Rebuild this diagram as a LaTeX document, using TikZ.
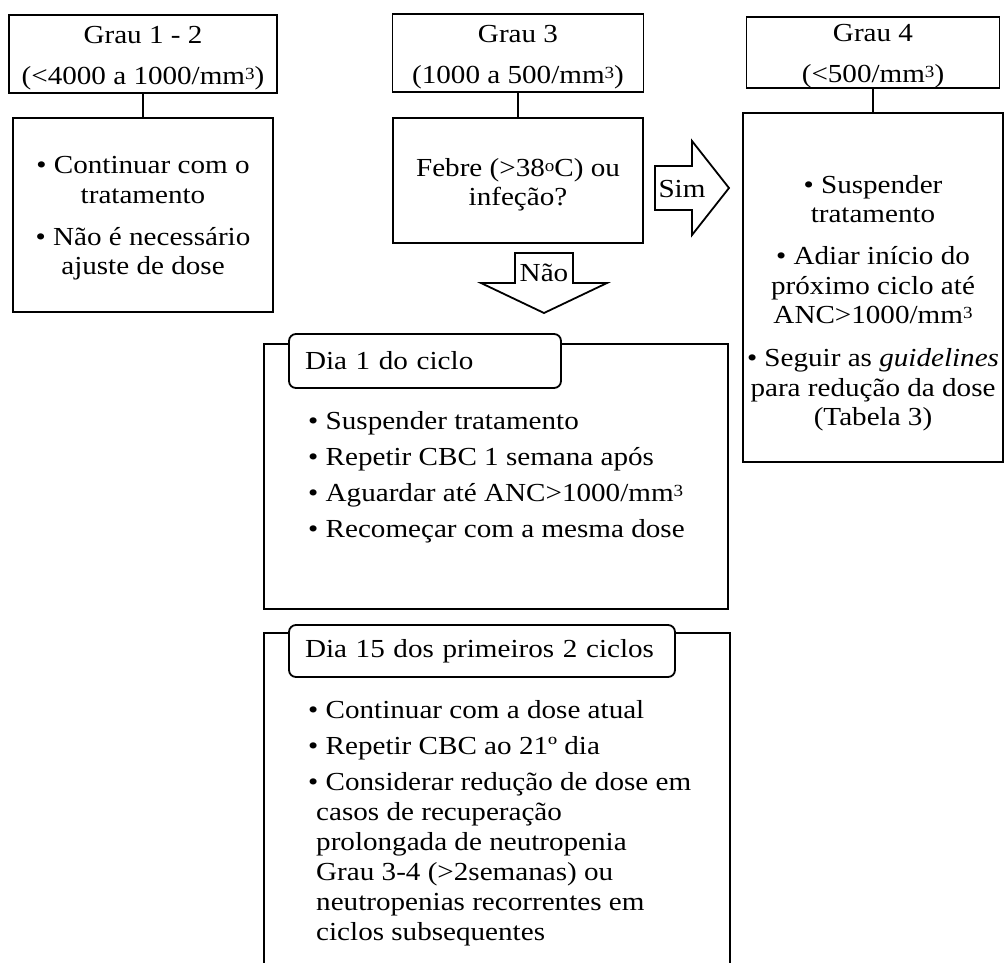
\documentclass[tikz,border=0pt]{standalone}
\usepackage{fontspec}
\setmainfont{Liberation Serif}[FakeStretch=1.12]
\usepackage{tikz}
\usetikzlibrary{positioning}
\tikzset{grade node/.style={draw, line width=1.8pt, inner sep=0pt, align=center,
    font=\fontsize{26}{41}\selectfont}}
\tikzset{frame node/.style={draw, line width=1.8pt, inner sep=0pt}}
\tikzset{action text/.style={inner sep=0pt, align=center, font=\fontsize{26}{29.5}\selectfont}}
\tikzset{day tab/.style={frame node, fill=white, rounded corners=7pt, inner xsep=16pt,
    align=left, font=\fontsize{26}{30}\selectfont}}
\tikzset{list text/.style={inner sep=0pt, align=left, font=\fontsize{26}{30}\selectfont}}
\tikzset{block arrow/.style={draw, fill=white, line width=1.8pt}}
\tikzset{regular edge/.style={draw, line width=1.8pt}}
\newcommand{\gradestrut}{\rule{0pt}{25pt}}
\newcommand{\upper}[1]{\raisebox{5pt}{\fontsize{17}{17}\selectfont #1}}

\begin{document}
\begin{tikzpicture}[x=1pt, y=-1pt]
  \clip (0, 0) rectangle (1004, 962);

  \node [grade node, minimum width=268pt, minimum height=78pt] (g12)   at (143, 54)    {\gradestrut Grau 1 - 2\\(<4000 a 1000/mm\upper{3})};
  \node [grade node, minimum width=251pt, minimum height=78pt] (g3)    at (518, 53)    {\gradestrut Grau 3\\(1000 a 500/mm\upper{3})};
  \node [grade node, minimum width=253pt, minimum height=71pt] (g4)    at (873, 52.5)  {\gradestrut Grau 4\\(<500/mm\upper{3})};

  \node [frame node, minimum width=260pt, minimum height=194pt] (g12act)  at (143, 215)   {};
  \node [action text, anchor=north]                             (g12text) at (143, 156.5) {\textbullet\ Continuar com o\\tratamento\\[12.5pt]\textbullet\ Não é necessário\\ajuste de dose};
  \node [frame node, minimum width=250pt, minimum height=125pt] (fever)    at (518, 180.5) {};
  \node [action text, anchor=north]                             (fevtext)  at (518, 158)   {Febre (>38\upper{o}C) ou\\infeção?};
  \node [frame node, minimum width=260pt, minimum height=349pt] (g4act)    at (873, 287.5) {};
  \node [action text, anchor=north]                             (g4text)   at (873, 175)   {\textbullet\ Suspender\\tratamento\\[12.5pt]\textbullet\ Adiar início do\\próximo ciclo até\\ANC>1000/mm\upper{3}\\[13.5pt]\textbullet\ Seguir as \textit{guidelines}\\para redução da dose\\(Tabela 3)};

  \draw [regular edge] (g12) -- (g12act);
  \draw [regular edge] (g3)  -- (fever);
  \draw [regular edge] (g4)  -- (g4act);

  \draw [block arrow] (655, 166) -- (692, 166) -- (692, 141) -- (729, 188) -- (692, 235) -- (692, 210) -- (655, 210) -- cycle;
  \node [anchor=base, font=\fontsize{26}{30}\selectfont] (yes) at (682, 197) {Sim};
  \draw [block arrow] (515, 253) -- (573, 253) -- (573, 283) -- (607, 283) -- (544, 313) -- (481, 283) -- (515, 283) -- cycle;
  \node [anchor=base, font=\fontsize{26}{30}\selectfont] (no)  at (544, 281) {Não};

  \node [frame node, minimum width=464pt, minimum height=265pt] (day1)     at (496, 476.5) {};
  \node [day tab, text width=240pt, minimum height=54pt]       (day1tab)  at (425, 361)   {Dia 1 do ciclo};
  \node [list text, anchor=north west]                          (day1list) at (308, 411)   {\textbullet\ Suspender tratamento\\[6pt]\textbullet\ Repetir CBC 1 semana após\\[6pt]\textbullet\ Aguardar até ANC>1000/mm\upper{3}\\[6pt]\textbullet\ Recomeçar com a mesma dose};

  \node [frame node, minimum width=466pt, minimum height=347pt] (day15)     at (497, 806.5) {};
  \node [day tab, text width=354pt, minimum height=52pt]       (day15tab)  at (482, 651)   {Dia 15 dos primeiros 2 ciclos};
  \node [list text, anchor=north west]                          (day15list) at (308, 700)   {\textbullet\ Continuar com a dose atual\\[6pt]\textbullet\ Repetir CBC ao 21º dia\\[6pt]\textbullet\ Considerar redução de dose em\\\hspace*{8pt}casos de recuperação\\\hspace*{8pt}prolongada de neutropenia\\\hspace*{8pt}Grau 3-4 (>2semanas) ou\\\hspace*{8pt}neutropenias recorrentes em\\\hspace*{8pt}ciclos subsequentes};
\end{tikzpicture}
\end{document}
